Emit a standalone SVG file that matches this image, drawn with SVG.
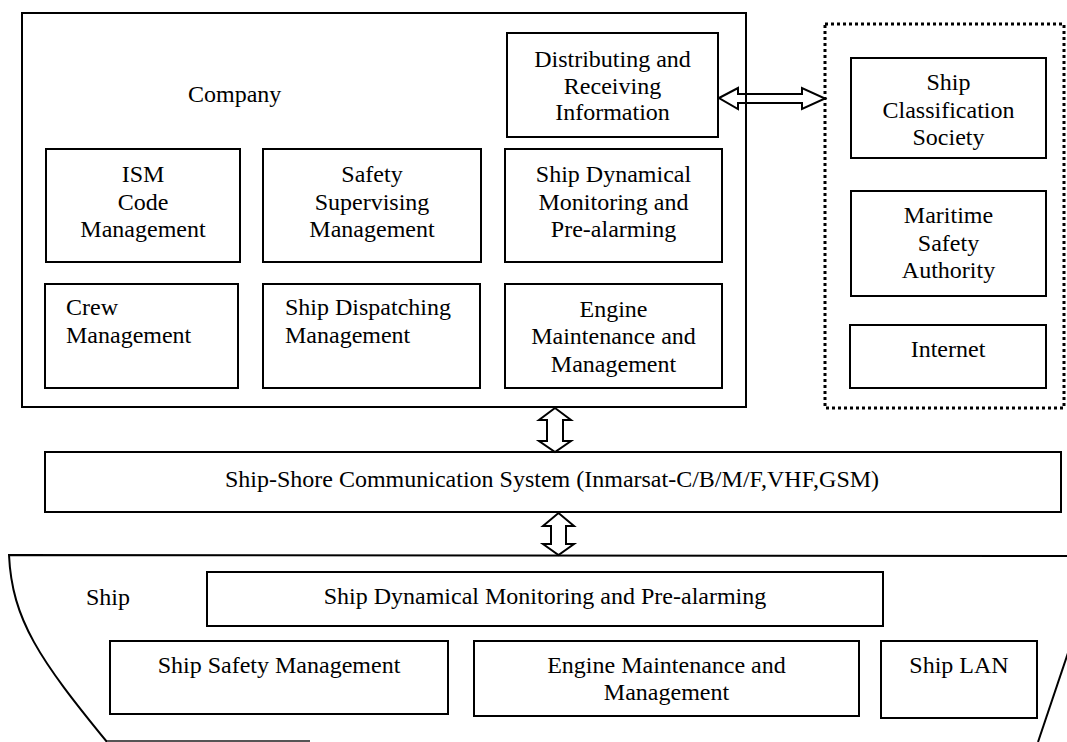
<svg xmlns="http://www.w3.org/2000/svg" width="1067" height="742" viewBox="0 0 1067 742">
<style>
.box{fill:none;stroke:#000;stroke-width:2}
.dot{fill:none;stroke:#000;stroke-width:3;stroke-dasharray:3 3}
.t{font-family:"Liberation Serif","Times New Roman",serif;font-size:24px;fill:#000}
.c{text-anchor:middle}
.arr{fill:none;stroke:#000;stroke-width:2;stroke-linejoin:miter}
</style>
<rect width="1067" height="742" fill="#fff"/>
<g id="company">
<rect class="box" x="22" y="13" width="724" height="394"/>
<text class="t" x="188" y="102">Company</text>
</g>
<g id="distributing">
<rect class="box" x="507" y="33" width="211" height="104"/>
<text class="t c" x="612.5" y="67">Distributing and</text>
<text class="t c" x="612.5" y="94">Receiving</text>
<text class="t c" x="612.5" y="120">Information</text>
</g>
<g id="ism">
<rect class="box" x="46" y="149" width="194" height="113"/>
<text class="t c" x="143" y="182">ISM</text>
<text class="t c" x="143" y="210">Code</text>
<text class="t c" x="143" y="237">Management</text>
</g>
<g id="safety">
<rect class="box" x="263" y="149" width="218" height="113"/>
<text class="t c" x="372" y="182">Safety</text>
<text class="t c" x="372" y="210">Supervising</text>
<text class="t c" x="372" y="237">Management</text>
</g>
<g id="dynamical">
<rect class="box" x="505" y="149" width="217" height="113"/>
<text class="t c" x="613.5" y="182">Ship Dynamical</text>
<text class="t c" x="613.5" y="210">Monitoring and</text>
<text class="t c" x="613.5" y="237">Pre-alarming</text>
</g>
<g id="crew">
<rect class="box" x="45" y="284" width="193" height="104"/>
<text class="t" x="66" y="315">Crew</text>
<text class="t" x="66" y="343">Management</text>
</g>
<g id="dispatching">
<rect class="box" x="263" y="284" width="217" height="104"/>
<text class="t" x="285" y="315">Ship Dispatching</text>
<text class="t" x="285" y="343">Management</text>
</g>
<g id="engine">
<rect class="box" x="505" y="284" width="217" height="104"/>
<text class="t c" x="613.5" y="317">Engine</text>
<text class="t c" x="613.5" y="344">Maintenance and</text>
<text class="t c" x="613.5" y="372">Management</text>
</g>
<g id="external">
<rect class="dot" x="825" y="24" width="239" height="384"/>
</g>
<g id="classification">
<rect class="box" x="851" y="58" width="195" height="100"/>
<text class="t c" x="948.5" y="90">Ship</text>
<text class="t c" x="948.5" y="118">Classification</text>
<text class="t c" x="948.5" y="145">Society</text>
</g>
<g id="maritime">
<rect class="box" x="851" y="191" width="195" height="105"/>
<text class="t c" x="948.5" y="223">Maritime</text>
<text class="t c" x="948.5" y="251">Safety</text>
<text class="t c" x="948.5" y="278">Authority</text>
</g>
<g id="internet">
<rect class="box" x="850" y="325" width="196" height="63"/>
<text class="t c" x="948" y="357">Internet</text>
</g>
<g id="comm">
<rect class="box" x="45" y="452" width="1016" height="60"/>
<text class="t c" x="552" y="487">Ship-Shore Communication System (Inmarsat-C/B/M/F,VHF,GSM)</text>
</g>
<g id="ship">
<path class="box" d="M1067,556 L9,555 C12,620 40,660 107,742"/>
<path class="box" d="M1069,650 L1038,742"/>
<path d="M107,741 L310,741" stroke="#555" stroke-width="2" fill="none"/>
<text class="t" x="86" y="605">Ship</text>
</g>
<g id="ship-dynamical">
<rect class="box" x="207" y="572" width="676" height="54"/>
<text class="t c" x="545" y="604">Ship Dynamical Monitoring and Pre-alarming</text>
</g>
<g id="ship-safety">
<rect class="box" x="110" y="641" width="338" height="73"/>
<text class="t c" x="279" y="673">Ship Safety Management</text>
</g>
<g id="ship-engine">
<rect class="box" x="474" y="641" width="385" height="75"/>
<text class="t c" x="666.5" y="673">Engine Maintenance and</text>
<text class="t c" x="666.5" y="700">Management</text>
</g>
<g id="ship-lan">
<rect class="box" x="881" y="641" width="156" height="77"/>
<text class="t c" x="959" y="673">Ship LAN</text>
</g>
<g id="connectors">
<path class="arr" d="M719,98 L738,88 L738,94 L802,94 L802,88 L825,98.5 L802,109 L802,103 L738,103 L738,109 Z"/>
<path class="arr" d="M555,408 L571,420 L563,420 L563,441 L571,441 L555,452 L539,441 L547,441 L547,420 L539,420 Z"/>
<path class="arr" d="M558.5,513 L574,526 L566,526 L566,544 L574,544 L558.5,555 L543,544 L551,544 L551,526 L543,526 Z"/>
</g>
</svg>
